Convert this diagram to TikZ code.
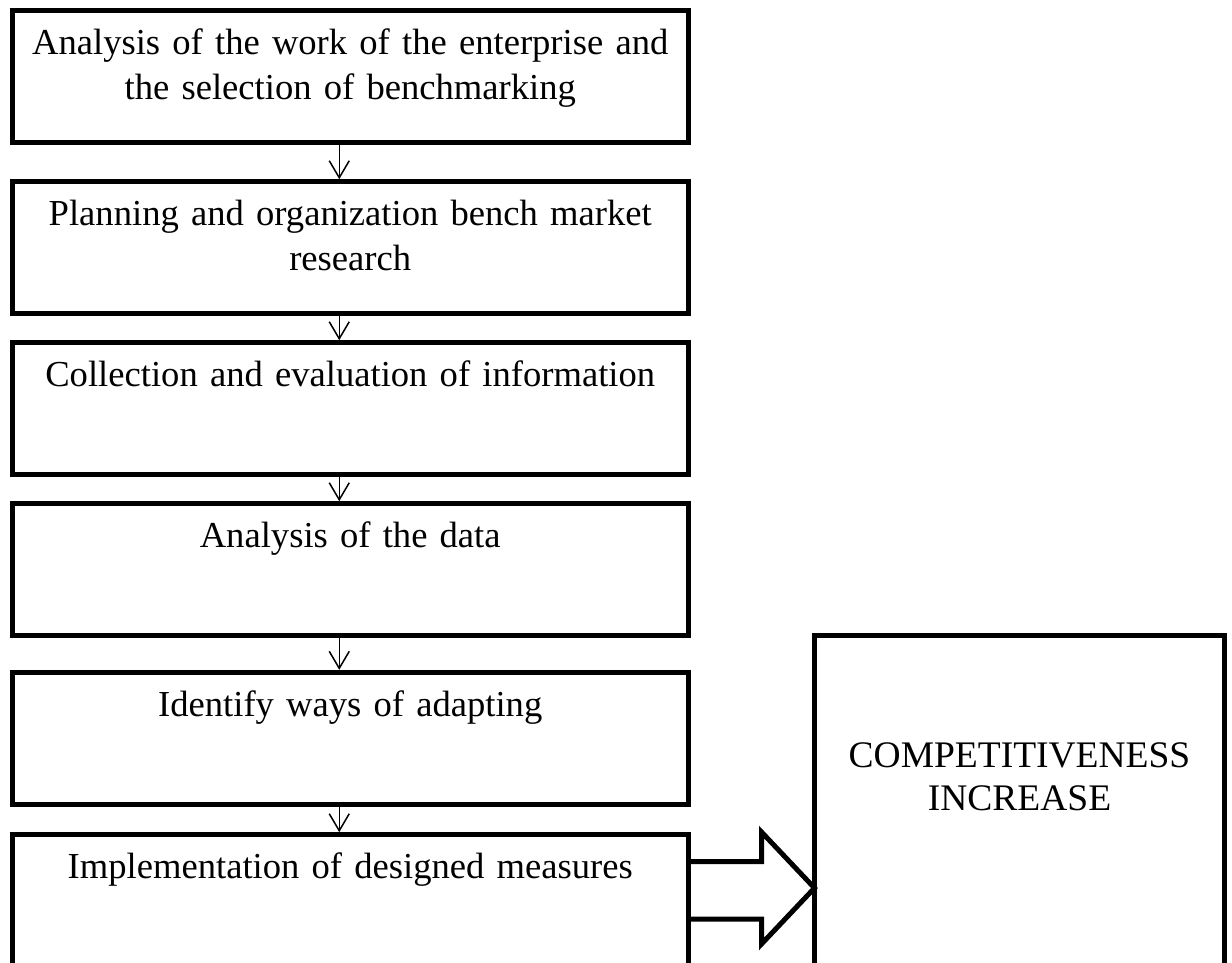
\documentclass[tikz,border=0pt]{standalone}
\usepackage{fontspec}
\setmainfont{Liberation Serif}
\usetikzlibrary{positioning,arrows.meta}

\begin{document}
\begin{tikzpicture}[x=1pt, y=1pt,
    >={Straight Barb[length=17pt,width=20pt]},
    stage/.style={rectangle, draw, line width=5pt, inner sep=0pt,
      text width=676pt, align=center, text height=44pt, text depth=88pt,
      font=\fontsize{36.6}{44.5}\selectfont},
    result/.style={rectangle, draw, line width=5pt, inner sep=0pt,
      text width=410pt, align=center, text height=132pt, text depth=228pt,
      font=\fontsize{37.5}{43}\selectfont},
    link/.style={->, line width=1.5pt}]
    \useasboundingbox (0,0) rectangle (1232,-962);

    \node (s1) [stage] at (350.25,-76.7) {Analysis of the work of the enterprise and\\ the selection of benchmarking};
    \node (s2) [stage, below=34pt of s1] {Planning and organization bench market\\ research};
    \node (s3) [stage, below=24pt of s2] {Collection and evaluation of information};
    \node (s4) [stage, below=24pt of s3] {Analysis of the data};
    \node (s5) [stage, below=31.6pt of s4] {Identify ways of adapting};
    \node (s6) [stage, below=25.4pt of s5] {Implementation of designed measures};

    \node (gain) [result, anchor=north] at (1019.5,-633) {COMPETITIVENESS\\ INCREASE};

    \draw[link] ([xshift=-11pt]s1.south) -- ([xshift=-11pt]s2.north);
    \draw[link] ([xshift=-11pt]s2.south) -- ([xshift=-11pt]s3.north);
    \draw[link] ([xshift=-11pt]s3.south) -- ([xshift=-11pt]s4.north);
    \draw[link] ([xshift=-11pt]s4.south) -- ([xshift=-11pt]s5.north);
    \draw[link] ([xshift=-11pt]s5.south) -- ([xshift=-11pt]s6.north);

    % block arrow into the result box
    \coordinate (tip) at ([xshift=2.5pt]gain.west |- 0,-888);
    \draw[line width=5pt] (s6.east |- 0,-861.5) -- (761.5,-861.5) -- (761.5,-832)
        -- (tip) -- (761.5,-944) -- (761.5,-919) -- (s6.east |- 0,-919);

\end{tikzpicture}
\end{document}
